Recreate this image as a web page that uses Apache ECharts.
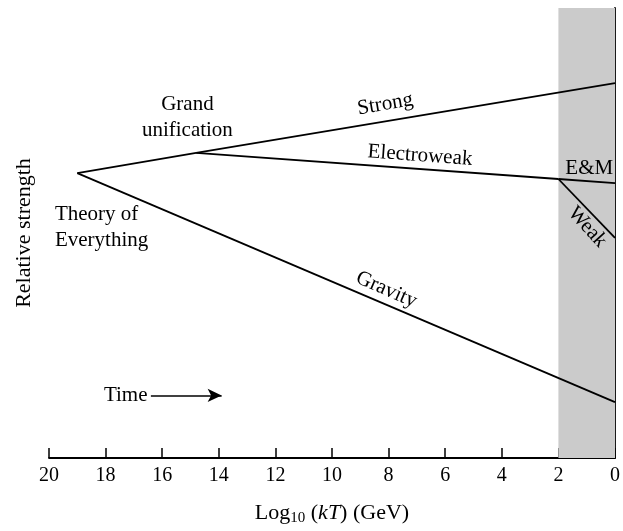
<!DOCTYPE html>
<html>
<head>
<meta charset="utf-8">
<script src="https://cdn.jsdelivr.net/npm/echarts@6/dist/echarts.min.js"></script>
<style>
  html, body { margin: 0; padding: 0; background: #fff; }
  #main { width: 623px; height: 531px; }
</style>
</head>
<body>
<div id="main"></div>
<script>
// x = log10(kT) in GeV, y = relative strength (arbitrary units)
var xTicks = [20, 18, 16, 14, 12, 10, 8, 6, 4, 2, 0];
var bandRange = [2, 0];

var toeLine = [[19, 63.3], [14.8, 67.8]];
var strongLine = [[14.8, 67.8], [0, 83.3]];
var ewLine = [[14.8, 67.8], [2, 62.0]];
var emLine = [[2, 62.0], [0, 61.1]];
var weakLine = [[2, 62.0], [0, 48.9]];
var gravityLine = [[19, 63.3], [0, 12.4]];
var timeArrow = [[16.4, 13.9], [13.9, 13.9]];

// annotations: text, x, y, align, rotation (deg)
var notes = [
    { text: 'Grand\nunification', x: 15.11, y: 75.6, align: 'center', rot: 0 },
    { text: 'Theory of\nEverything', x: 19.79, y: 51.3, align: 'left', rot: 0 },
    { text: 'Strong', x: 8.12, y: 78.6, align: 'center', rot: 9.6 },
    { text: 'Electroweak', x: 6.89, y: 67.2, align: 'center', rot: -4.2 },
    { text: 'E&M', x: 0.91, y: 64.3, align: 'center', rot: 0 },
    { text: 'Weak', x: 0.98, y: 51.3, align: 'center', rot: -47.5 },
    { text: 'Gravity', x: 8.08, y: 37.4, align: 'center', rot: -23.4 },
    { text: 'Time', x: 16.52, y: 13.9, align: 'right', rot: 0 }
];

var serif = 'Liberation Serif';
var box = document.getElementById('main');
var myChart = echarts.init(box);

var lineSeries = function (name, data) {
    return {
        name: name,
        type: 'line',
        data: data,
        symbol: 'none',
        silent: true,
        lineStyle: { color: '#000', width: 1.8 },
        z: 3
    };
};

var option = {
    animation: false,
    backgroundColor: '#fff',
    grid: { left: 49, right: 5, top: 8, bottom: 63, containLabel: false },
    xAxis: {
        type: 'value',
        min: 0,
        max: 20,
        interval: 2,
        inverse: true,
        name: 'Log{sub|10} ({it|kT}) (GeV)',
        nameLocation: 'middle',
        nameGap: 42,
        nameTextStyle: {
            fontFamily: serif, fontSize: 22, color: '#000',
            rich: {
                sub: { fontFamily: serif, fontSize: 15, color: '#000', verticalAlign: 'bottom', padding: [11, 0, 0, 0] },
                it: { fontFamily: serif, fontSize: 22, color: '#000', fontStyle: 'italic' }
            }
        },
        axisLine: { lineStyle: { color: '#000', width: 1.8 } },
        axisTick: { inside: true, length: 10, lineStyle: { color: '#000', width: 1.5 } },
        axisLabel: { fontFamily: serif, fontSize: 20, color: '#000', margin: 8 },
        splitLine: { show: false }
    },
    yAxis: {
        type: 'value',
        min: 0,
        max: 100,
        name: 'Relative strength',
        nameLocation: 'middle',
        nameGap: 14,
        nameTextStyle: { fontFamily: serif, fontSize: 22, color: '#000' },
        axisLine: { show: true, lineStyle: { color: '#000', width: 1.8 } },
        axisTick: { show: false },
        axisLabel: { show: false },
        splitLine: { show: false }
    },
    series: [
        {
            name: 'band',
            type: 'line',
            data: [],
            silent: true,
            markArea: {
                silent: true,
                itemStyle: { color: '#cbcbcb' },
                data: [[{ xAxis: bandRange[0], yAxis: 0 }, { xAxis: bandRange[1], yAxis: 100 }]]
            },
            z: 1
        },
        lineSeries('toe', toeLine),
        lineSeries('Strong', strongLine),
        lineSeries('Electroweak', ewLine),
        lineSeries('E&M', emLine),
        lineSeries('Weak', weakLine),
        lineSeries('Gravity', gravityLine),
        {
            name: 'time',
            type: 'line',
            data: [],
            silent: true,
            markLine: {
                silent: true,
                symbol: ['none', 'arrow'],
                symbolSize: [10, 14],
                label: { show: false },
                lineStyle: { color: '#000', width: 1.5, type: 'solid' },
                data: [[{ coord: timeArrow[0] }, { coord: timeArrow[1] }]]
            }
        }
    ]
};
myChart.setOption(option);

// place the text annotations from data coordinates
var graphics = notes.map(function (n) {
    var p = myChart.convertToPixel({ gridIndex: 0 }, [n.x, n.y]);
    return {
        type: 'text',
        x: p[0],
        y: p[1],
        rotation: n.rot * Math.PI / 180,
        silent: true,
        z: 10,
        style: {
            text: n.text,
            fontFamily: serif,
            fontSize: 21,
            lineHeight: 26,
            fill: '#000',
            align: n.align,
            verticalAlign: 'middle'
        }
    };
});
myChart.setOption({ graphic: graphics });
</script>
</body>
</html>
